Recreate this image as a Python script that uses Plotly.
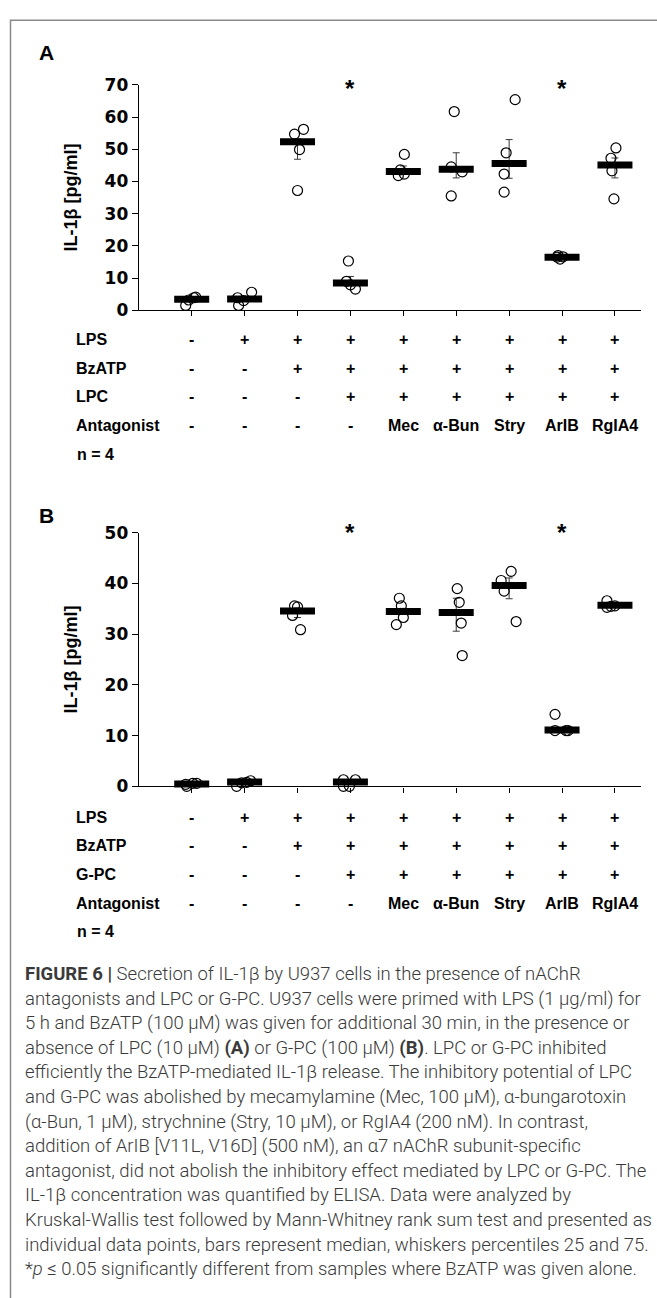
import plotly.graph_objects as go

W, H = 657, 1298

# ---------------- data ----------------
categories = [1, 2, 3, 4, 5, 6, 7, 8, 9]

# Panel A (LPC)
a_points = [
    [1.5, 3.2, 3.9, 4.1],
    [1.5, 3.9, 3.0, 5.6],
    [37.2, 49.9, 54.7, 56.2],
    [15.3, 9.0, 7.9, 6.6],
    [48.4, 43.6, 41.8, 42.3],
    [61.7, 44.5, 43.0, 35.5],
    [65.4, 48.9, 42.3, 36.7],
    [16.5, 15.9, 16.6, 17.0],
    [50.4, 47.2, 43.3, 34.6],
]
a_jitter_px = [
    [-6, -3, 2, 4],
    [-6, -7, -1, 7],
    [0, 2, -3, 6],
    [-2, -4, 0, 5],
    [1, -3, -5, 1],
    [-2, -5, 6, -5],
    [6, -3, -5, -5],
    [-5, -2, 1, -4],
    [1, -4, -3, -1],
]
a_median = [3.4, 3.5, 52.3, 8.5, 43.1, 43.8, 45.6, 16.5, 45.1]
a_p25 = [3.4, 3.5, 46.9, 7.6, 42.3, 41.1, 41.0, 16.5, 41.1]
a_p75 = [3.4, 3.5, 53.2, 10.5, 44.8, 48.9, 53.0, 16.5, 47.3]
a_star_cats = [4, 8]
a_star_y = 68.8

# Panel B (G-PC)
b_points = [
    [0.0, 0.4, 0.6, 0.6],
    [0.0, 0.7, 1.1, 0.8],
    [35.6, 35.4, 33.7, 30.9],
    [1.3, 1.3, 0.0, 0.0],
    [37.1, 35.6, 33.3, 31.9],
    [39.0, 36.3, 32.2, 25.8],
    [42.4, 40.6, 38.5, 32.5],
    [14.2, 11.0, 11.0, 11.0],
    [36.6, 35.3, 35.6, 35.5],
]
b_jitter_px = [
    [-5, -6, 1, 5],
    [-8, -3, 6, 2],
    [-3, 0, -5, 3],
    [-7, 5, -7, -1],
    [-4, -2, 0, -7],
    [1, 3, 5, 6],
    [2, -8, -5, 7],
    [-7, -7, 4, 6],
    [-8, -8, 0, -4],
]
b_median = [0.45, 0.85, 34.6, 0.85, 34.5, 34.3, 39.6, 11.1, 35.7]
b_p25 = [0.45, 0.85, 33.3, 0.85, 33.9, 30.6, 37.0, 11.1, 35.7]
b_p75 = [0.45, 0.85, 35.2, 0.85, 35.1, 37.1, 41.1, 11.1, 35.7]
b_star_cats = [4, 8]
b_star_y = 50.0

a_ticks = [0, 10, 20, 30, 40, 50, 60, 70]
b_ticks = [0, 10, 20, 30, 40, 50]

a_rows = [
    ("LPS", ["-", "+", "+", "+", "+", "+", "+", "+", "+"]),
    ("BzATP", ["-", "-", "+", "+", "+", "+", "+", "+", "+"]),
    ("LPC", ["-", "-", "-", "+", "+", "+", "+", "+", "+"]),
    ("Antagonist", ["-", "-", "-", "-", "Mec", "α-Bun", "Stry", "ArIB", "RgIA4"]),
]
b_rows = [
    ("LPS", ["-", "+", "+", "+", "+", "+", "+", "+", "+"]),
    ("BzATP", ["-", "-", "+", "+", "+", "+", "+", "+", "+"]),
    ("G-PC", ["-", "-", "-", "+", "+", "+", "+", "+", "+"]),
    ("Antagonist", ["-", "-", "-", "-", "Mec", "α-Bun", "Stry", "ArIB", "RgIA4"]),
]
n_label = "n = 4"
y_title = "IL-1β [pg/ml]"

caption_lines = [
    "<b>FIGURE 6 |</b> Secretion of IL-1β by U937 cells in the presence of nAChR",
    "antagonists and LPC or G-PC. U937 cells were primed with LPS (1 μg/ml) for",
    "5 h and BzATP (100 μM) was given for additional 30 min, in the presence or",
    "absence of LPC (10 μM) <b>(A)</b> or G-PC (100 μM) <b>(B)</b>. LPC or G-PC inhibited",
    "efficiently the BzATP-mediated IL-1β release. The inhibitory potential of LPC",
    "and G-PC was abolished by mecamylamine (Mec, 100 μM), α-bungarotoxin",
    "(α-Bun, 1 μM), strychnine (Stry, 10 μM), or RgIA4 (200 nM). In contrast,",
    "addition of ArIB [V11L, V16D] (500 nM), an α7 nAChR subunit-specific",
    "antagonist, did not abolish the inhibitory effect mediated by LPC or G-PC. The",
    "IL-1β concentration was quantified by ELISA. Data were analyzed by",
    "Kruskal-Wallis test followed by Mann-Whitney rank sum test and presented as",
    "individual data points, bars represent median, whiskers percentiles 25 and 75.",
    "*<i>p</i> ≤ 0.05 significantly different from samples where BzATP was given alone.",
]

# ---------------- layout helpers ----------------
def px(x):
    return x / W

def py(y):
    return 1 - y / H

X0, X1 = 138.8, 641.4
XR = [0, 9.5]
unit_px = (X1 - X0) / (XR[1] - XR[0])

panels = [
    dict(points=a_points, jit=a_jitter_px, med=a_median, p25=a_p25, p75=a_p75,
         stars=a_star_cats, star_y=a_star_y, ticks=a_ticks, rng=[0, 70],
         ytop=76, ybot=305, label="A", label_y=43, rows=a_rows,
         row_y=[335, 364, 393, 422], n_y=451, xa="x", ya="y"),
    dict(points=b_points, jit=b_jitter_px, med=b_median, p25=b_p25, p75=b_p75,
         stars=b_star_cats, star_y=b_star_y, ticks=b_ticks, rng=[0, 50],
         ytop=531, ybot=788.5, label="B", label_y=513, rows=b_rows,
         row_y=[820, 849, 878, 907], n_y=936, xa="x2", ya="y2"),
]

FONT = "Liberation Sans, Arial, sans-serif"
CAPFONT = "Roboto, Liberation Sans, sans-serif"
fig = go.Figure()
annotations = []

for p in panels:
    # whiskers
    fig.add_trace(go.Scatter(
        x=categories, y=p["med"], mode="markers", xaxis=p["xa"], yaxis=p["ya"],
        marker=dict(size=1, opacity=0), showlegend=False, hoverinfo="skip",
        error_y=dict(type="data", symmetric=False,
                     array=[hi - m for hi, m in zip(p["p75"], p["med"])],
                     arrayminus=[m - lo for lo, m in zip(p["p25"], p["med"])],
                     color="#3a3a3a", thickness=1, width=3.5),
        cliponaxis=False,
    ))
    # individual points
    xs, ys = [], []
    for c, vals, jit in zip(categories, p["points"], p["jit"]):
        for v, j in zip(vals, jit):
            xs.append(c + j / unit_px)
            ys.append(v)
    fig.add_trace(go.Scatter(
        x=xs, y=ys, mode="markers", xaxis=p["xa"], yaxis=p["ya"],
        marker=dict(symbol="circle-open", size=10, color="black",
                    line=dict(width=1.2, color="black")),
        showlegend=False, hoverinfo="skip", cliponaxis=False,
    ))
    # median bars
    fig.add_trace(go.Scatter(
        x=categories, y=p["med"], mode="markers", xaxis=p["xa"], yaxis=p["ya"],
        marker=dict(symbol="line-ew", size=25, color="black",
                    line=dict(width=7, color="black")),
        showlegend=False, hoverinfo="skip", cliponaxis=False,
    ))
    # asterisks
    for c in p["stars"]:
        annotations.append(dict(
            x=c, y=p["star_y"], xref=p["xa"], yref=p["ya"], text="<b>*</b>",
            showarrow=False, font=dict(family=FONT, size=24, color="black"),
            xanchor="center", yanchor="middle"))
    # panel label
    annotations.append(dict(
        x=px(37), y=py(p["label_y"]), xref="paper", yref="paper",
        text="<b>%s</b>" % p["label"], showarrow=False,
        font=dict(family=FONT, size=21, color="black"),
        xanchor="left", yanchor="middle"))
    # y title
    annotations.append(dict(
        x=px(71), y=py((p["ytop"] + p["ybot"]) / 2), xref="paper", yref="paper",
        text="<b>%s</b>" % y_title, textangle=-90, showarrow=False,
        font=dict(family=FONT, size=18, color="black"),
        xanchor="center", yanchor="middle"))
    # table rows
    for (name, cells), ry in zip(p["rows"], p["row_y"]):
        annotations.append(dict(
            x=px(74), y=py(ry), xref="paper", yref="paper",
            text="<b>%s</b>" % name, showarrow=False,
            font=dict(family=FONT, size=16, color="black"),
            xanchor="left", yanchor="middle"))
        for c, t in zip(categories, cells):
            annotations.append(dict(
                x=c, y=py(ry), xref=p["xa"], yref="paper",
                text="<b>%s</b>" % t, showarrow=False,
                font=dict(family=FONT, size=16, color="black"),
                xanchor="center", yanchor="middle"))
    annotations.append(dict(
        x=px(75), y=py(p["n_y"]), xref="paper", yref="paper",
        text="<b>%s</b>" % n_label, showarrow=False,
        font=dict(family=FONT, size=16, color="black"),
        xanchor="left", yanchor="middle"))

# caption
cap_y0, cap_dy = 979, 25
for i, line in enumerate(caption_lines):
    annotations.append(dict(
        x=px(23), y=py(cap_y0 + i * cap_dy), xref="paper", yref="paper",
        text=line, showarrow=False,
        font=dict(family=CAPFONT, size=18.5, color="#3a3a3a", weight=300),
        xanchor="left", yanchor="middle"))

axis_common = dict(showgrid=False, zeroline=False, showline=True,
                   linecolor="black", linewidth=1.3, ticks="outside",
                   tickcolor="black", tickwidth=1.3, mirror=False)

tickfont = dict(family="DejaVu Sans, sans-serif", size=17, color="black",
                weight="bold")
xdom = [px(X0), px(X1)]
fig.update_layout(
    width=W, height=H, margin=dict(l=0, r=0, t=0, b=0),
    paper_bgcolor="white", plot_bgcolor="white",
    xaxis=dict(domain=xdom, range=XR, tickvals=categories, showticklabels=False,
               ticklen=5, anchor="y", fixedrange=True, **axis_common),
    yaxis=dict(domain=[py(305), py(76)], range=[0, 70], tickvals=a_ticks,
               ticklen=6, anchor="x", fixedrange=True, tickfont=tickfont,
               **axis_common),
    xaxis2=dict(domain=xdom, range=XR, tickvals=categories, showticklabels=False,
                ticklen=5, anchor="y2", fixedrange=True, **axis_common),
    yaxis2=dict(domain=[py(788.5), py(531)], range=[0, 50], tickvals=b_ticks,
                ticklen=6, anchor="x2", fixedrange=True, tickfont=tickfont,
                **axis_common),
    annotations=annotations,
    shapes=[dict(type="rect", xref="paper", yref="paper",
                 x0=px(10.5), y0=py(1400), x1=px(760), y1=py(10.5),
                 line=dict(color="#8a8a8a", width=1.5), fillcolor="rgba(0,0,0,0)",
                 layer="below")],
    showlegend=False,
)

fig.write_html("out.html")
